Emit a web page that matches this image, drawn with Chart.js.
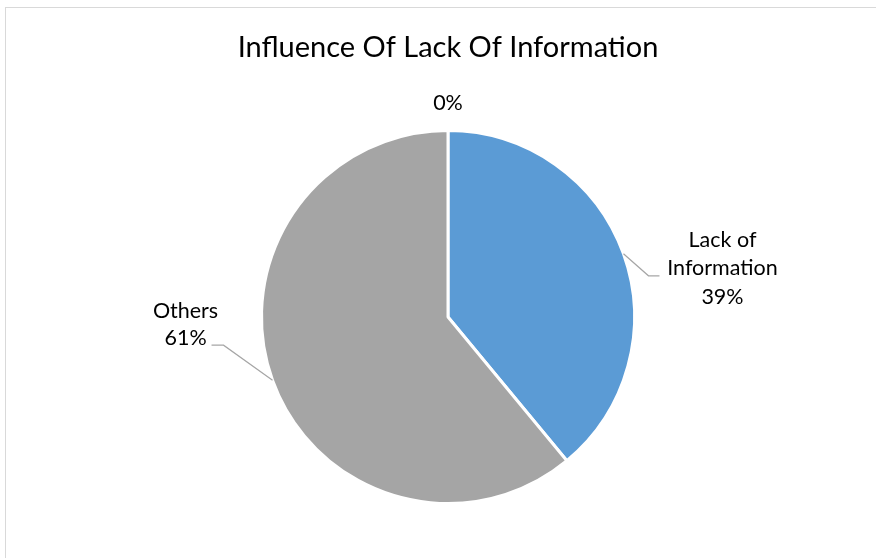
<!DOCTYPE html>
<html>
<head>
<meta charset="utf-8">
<script src="https://cdn.jsdelivr.net/npm/chart.js@4/dist/chart.umd.min.js"></script>
<style>
  html, body { margin: 0; padding: 0; background: #fff; overflow: hidden; }
  #wrap { position: relative; width: 876px; height: 558px; }
  #frame { position: absolute; left: 5px; top: 7px; width: 900px; height: 600px;
           border: 1px solid #d9d9d9; box-sizing: border-box; }
  canvas { position: absolute; left: 0; top: 0; }
</style>
</head>
<body>
<div id="wrap">
  <div id="frame"></div>
  <canvas id="c" width="876" height="558"></canvas>
</div>
<script>
// Share of respondents by influencing factor
const categories = ["", "Lack of Information", "Others"];
const percentValues = [0, 39, 61];
const sliceColors = ["#ED7D31", "#5B9BD5", "#A5A5A5"];
const chartTitle = "Influence Of Lack Of Information";

const FONT = "Lato, 'Open Sans', sans-serif";

// Data labels with leader lines, placed beside each slice
const pieLabels = {
  id: "pieLabels",
  afterDraw(chart) {
    const ctx = chart.ctx;
    const meta = chart.getDatasetMeta(0);
    const total = percentValues.reduce((a, b) => a + b, 0);
    ctx.save();
    ctx.textAlign = "center";
    ctx.textBaseline = "alphabetic";
    ctx.fillStyle = "#000";

    // title
    ctx.font = "29px " + FONT;
    ctx.fillText(chartTitle, 448, 57);

    ctx.font = "21.5px " + FONT;
    meta.data.forEach((arc, i) => {
      const pct = Math.round(percentValues[i] / total * 100) + "%";
      const mid = (arc.startAngle + arc.endAngle) / 2;
      const r = arc.outerRadius;
      const px = arc.x + Math.cos(mid) * r;
      const py = arc.y + Math.sin(mid) * r;
      if (percentValues[i] === 0) {
        ctx.fillText(pct, arc.x, arc.y - r - 21);
        return;
      }
      ctx.strokeStyle = "#a6a6a6";
      ctx.lineWidth = 1.2;
      ctx.beginPath();
      if (px > arc.x) {
        const ex = px + 25, ey = py + 22;
        ctx.moveTo(px, py); ctx.lineTo(ex, ey); ctx.lineTo(ex + 11, ey);
        ctx.stroke();
        const cx = ex + 74;
        const words = categories[i].split(" ");
        const lines = [words.slice(0, 2).join(" "), words.slice(2).join(" "), pct];
        lines.forEach((t, k) => ctx.fillText(t, cx, ey - 29 + k * 28.5));
      } else {
        const ex = px - 49, ey = py - 35;
        ctx.moveTo(px, py); ctx.lineTo(ex, ey); ctx.lineTo(ex - 12, ey);
        ctx.stroke();
        const cx = ex - 38;
        ctx.fillText(categories[i], cx, ey - 27);
        ctx.fillText(pct, cx, ey);
      }
    });
    ctx.restore();
  }
};

new Chart(document.getElementById("c"), {
  type: "pie",
  data: {
    labels: categories,
    datasets: [{
      data: percentValues,
      backgroundColor: sliceColors,
      borderColor: "#ffffff",
      borderWidth: 3
    }]
  },
  options: {
    responsive: false,
    animation: false,
    layout: { padding: { left: 260, right: 240, top: 129, bottom: 53 } },
    plugins: {
      legend: { display: false },
      title: { display: false },
      tooltip: { enabled: false }
    }
  },
  plugins: [pieLabels]
});
</script>
</body>
</html>
